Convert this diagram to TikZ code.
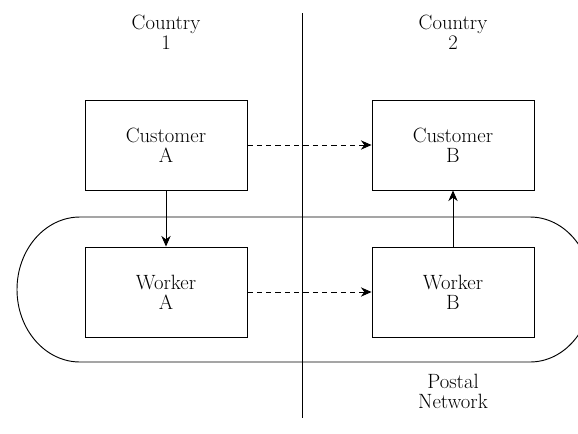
\documentclass[tikz,border=0pt]{standalone}
\usetikzlibrary{arrows.meta}
\begin{document}
\begin{tikzpicture}[x=0.75pt,y=-0.75pt,
  line width=0.7pt,
  lbl/.style={align=center,font=\fontsize{15.5}{15}\selectfont,inner sep=0pt},
  box/.style={draw,minimum width=121.5pt,minimum height=67.5pt,align=center,font=\fontsize{15.5}{15}\selectfont},
  arr/.style={-{Stealth[length=8pt,width=7pt]}},
  darr/.style={arr,dashed,dash pattern=on 4pt off 3pt}]
\useasboundingbox (0,0) rectangle (578,433);
\node[box] (ca) at (166,145) {Customer\\A};
\node[box] (cb) at (453,145) {Customer\\B};
\node[box] (wa) at (166,292) {Worker\\A};
\node[box] (wb) at (453,292) {Worker\\B};
\node[lbl] (c1) at (166,32) {Country\\1};
\node[lbl] (c2) at (453,32) {Country\\2};
\node[lbl] (pn) at (453,391) {Postal\\Network};
\coordinate (vt) at (302,13);
\coordinate (vb) at (302,418);
\draw (vt) -- (vb);
\begin{scope}
\clip (0,0) rectangle (578,433);
\draw (80,217) -- (530,217) arc[start angle=-90,end angle=90,x radius=62,y radius=72.5]
  -- (80,362) arc[start angle=90,end angle=270,x radius=63,y radius=72.5] -- cycle;
\end{scope}
\draw[arr] (ca) -- (wa);
\draw[arr] (wb) -- (cb);
\draw[darr] (ca) -- (cb);
\draw[darr] (wa) -- (wb);
\end{tikzpicture}
\end{document}
